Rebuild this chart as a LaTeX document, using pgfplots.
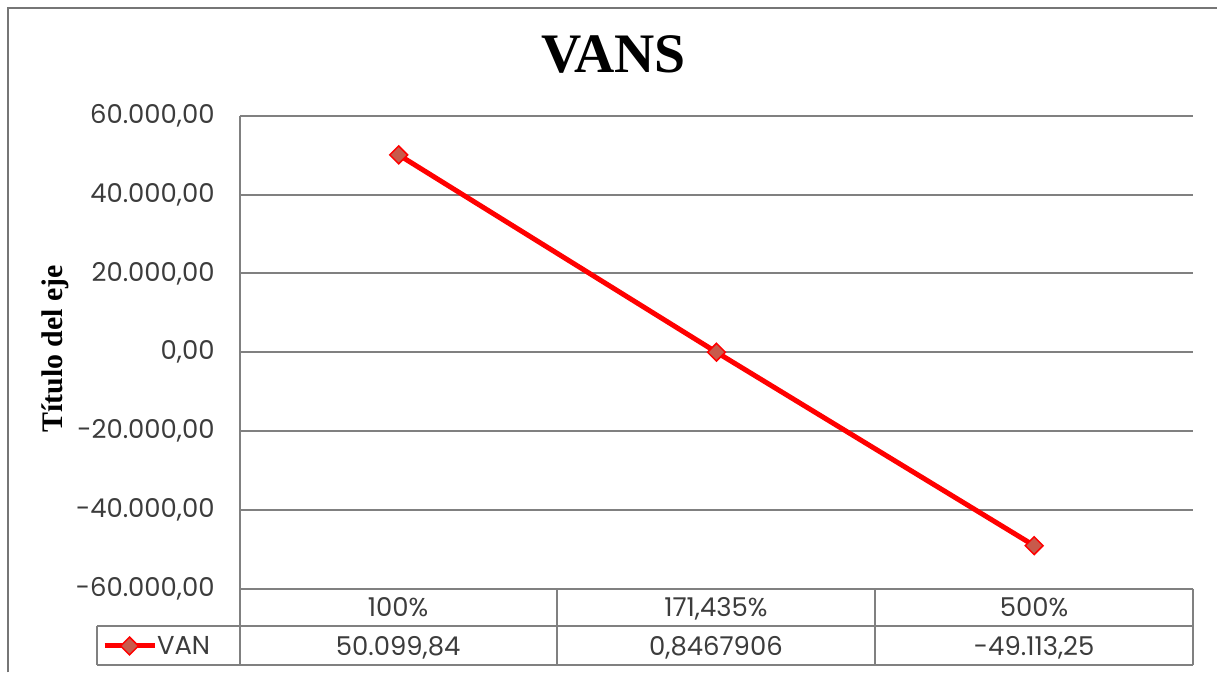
\documentclass[border=0pt]{standalone}
\usepackage{fontspec}
\setmainfont{Poppins}
\newfontfamily\serifb{Liberation Serif}
\usepackage{pgfplots}
\pgfplotsset{compat=1.18}
\definecolor{gridgray}{RGB}{128,128,128}
\definecolor{framegray}{RGB}{118,118,118}
\definecolor{markfill}{RGB}{200,90,75}
\definecolor{txt}{RGB}{60,60,60}
\begin{document}
\begin{tikzpicture}[x=1bp,y=1bp]
\path (0,0) rectangle (1218,673);
\draw[framegray, line width=2bp] (8,0) -- (8,665) -- (1218,665);
\node[anchor=base, inner sep=0pt, font=\serifb\bfseries\fontsize{56}{56}\selectfont] at (614,600) {VANS};
\begin{axis}[at={(240bp,84bp)}, anchor=south west, scale only axis,
  width=954bp, height=473bp,
  xmin=0, xmax=3, ymin=-60000, ymax=60000,
  scaled y ticks=false,
  axis x line=none, axis y line=left,
  axis line style={-, gridgray, line width=2bp},
  ytick={-60000,-40000,-20000,0,20000,40000,60000},
  yticklabels={{-60.000,00},{-40.000,00},{-20.000,00},{0,00},{20.000,00},{40.000,00},{60.000,00}},
  ymajorgrids, grid style={gridgray, line width=2bp},
  major tick length=0pt,
  yticklabel style={font=\fontsize{26}{26}\selectfont, text=txt, anchor=east, inner sep=0pt, xshift=-25bp},
  ylabel={Título del eje},
  ylabel style={at={(axis description cs:-0.194,0.507)}, anchor=center, inner sep=0pt,
    font=\serifb\bfseries\fontsize{30}{30}\selectfont},
  legend style={at={(axis description cs:-0.1447,-0.1216)}, anchor=west, draw=none, fill=none,
    inner sep=0pt, nodes={inner sep=0pt, font=\fontsize{26}{26}\selectfont, text=txt},
    column sep=0bp},
  legend image code/.code={
    \draw[red, line width=5bp] (0bp,0bp) -- (50bp,0bp);
    \draw plot[mark=square*, mark size=6.3bp, mark options={rotate=45, fill=markfill, draw=red, line width=1.5bp}] coordinates {(25bp,0bp)};
  },
]
\addplot[red, line width=5bp, mark=square*, mark size=6.3bp,
  mark options={rotate=45, fill=markfill, draw=red, line width=1.5bp}]
  coordinates {(0.5,50099.84) (1.5,0.8467906) (2.5,-49113.25)};
\addlegendentry{VAN}
\end{axis}
\draw[gridgray, line width=2bp]
  (240,84) -- (240,7)
  (557,84) -- (557,7)
  (876,84) -- (876,7)
  (1194,84) -- (1194,7)
  (97,46) -- (1194,46)
  (97,7) -- (1194,7)
  (97,46) -- (97,7);
\begin{scope}[every node/.style={anchor=base, inner sep=0pt, text=txt, font=\fontsize{26}{26}\selectfont}]
\node at (398.5,56) {100\%};
\node at (716.5,56) {171,435\%};
\node at (1035,56) {500\%};
\node at (398.5,17) {50.099,84};
\node at (716.5,17) {0,8467906};
\node at (1035,17) {-49.113,25};
\end{scope}
\end{tikzpicture}
\end{document}
